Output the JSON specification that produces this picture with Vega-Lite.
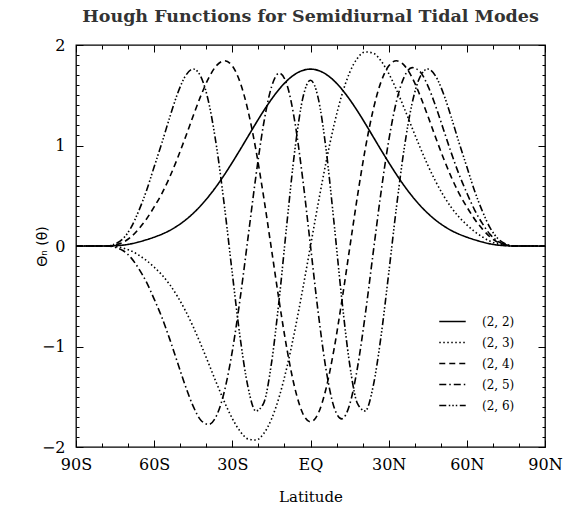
{
  "$schema": "https://vega.github.io/schema/vega-lite/v6.json",
  "width": 469,
  "height": 402,
  "autosize": {"type": "none"},
  "padding": {"left": 76, "top": 45, "right": 21, "bottom": 61},
  "background": "white",
  "config": {
    "view": {"stroke": "black", "strokeWidth": 1.3},
    "axis": {
      "grid": false,
      "domain": false,
      "tickColor": "black",
      "tickWidth": 1,
      "labelColor": "black",
      "titleColor": "black",
      "labelFont": "DejaVu Serif",
      "titleFont": "DejaVu Serif",
      "labelFontSize": 16,
      "titleFontSize": 15,
      "titleFontWeight": "normal",
      "labelFlush": false,
      "labelOverlap": false
    }
  },
  "title": {
    "text": "Hough Functions for Semidiurnal Tidal Modes",
    "font": "DejaVu Serif",
    "fontSize": 17.5,
    "fontWeight": 600,
    "color": "#333333",
    "anchor": "middle",
    "offset": 12
  },
  "data": {
    "values": [
      {"lat": -90, "m22": 0, "m23": 0, "m24": 0, "m25": 0, "m26": 0},
      {"lat": -87, "m22": 0, "m23": 0, "m24": 0, "m25": 0, "m26": 0},
      {"lat": -84, "m22": 0, "m23": 0, "m24": 0, "m25": 0, "m26": 0},
      {"lat": -81, "m22": 0, "m23": 0, "m24": 0, "m25": 0, "m26": 0},
      {"lat": -78, "m22": 0, "m23": 0, "m24": 0, "m25": 0, "m26": 0},
      {"lat": -75, "m22": 0.003, "m23": -0.005, "m24": 0.011, "m25": -0.013, "m26": 0.020},
      {"lat": -72, "m22": 0.009, "m23": -0.020, "m24": 0.036, "m25": -0.045, "m26": 0.071},
      {"lat": -69, "m22": 0.021, "m23": -0.047, "m24": 0.088, "m25": -0.113, "m26": 0.178},
      {"lat": -66, "m22": 0.040, "m23": -0.090, "m24": 0.168, "m25": -0.222, "m26": 0.344},
      {"lat": -63, "m22": 0.062, "m23": -0.143, "m24": 0.267, "m25": -0.358, "m26": 0.547},
      {"lat": -60, "m22": 0.088, "m23": -0.211, "m24": 0.389, "m25": -0.528, "m26": 0.788},
      {"lat": -57, "m22": 0.118, "m23": -0.288, "m24": 0.524, "m25": -0.713, "m26": 1.029},
      {"lat": -54, "m22": 0.155, "m23": -0.385, "m24": 0.688, "m25": -0.929, "m26": 1.283},
      {"lat": -51, "m22": 0.202, "m23": -0.504, "m24": 0.876, "m25": -1.162, "m26": 1.518},
      {"lat": -48, "m22": 0.258, "m23": -0.644, "m24": 1.082, "m25": -1.394, "m26": 1.692},
      {"lat": -45, "m22": 0.326, "m23": -0.805, "m24": 1.296, "m25": -1.596, "m26": 1.761},
      {"lat": -42, "m22": 0.405, "m23": -0.985, "m24": 1.500, "m25": -1.736, "m26": 1.680},
      {"lat": -39, "m22": 0.496, "m23": -1.175, "m24": 1.676, "m25": -1.775, "m26": 1.420},
      {"lat": -36, "m22": 0.598, "m23": -1.369, "m24": 1.797, "m25": -1.684, "m26": 0.978},
      {"lat": -33, "m22": 0.711, "m23": -1.554, "m24": 1.843, "m25": -1.440, "m26": 0.389},
      {"lat": -30, "m22": 0.832, "m23": -1.717, "m24": 1.791, "m25": -1.045, "m26": -0.276},
      {"lat": -27, "m22": 0.959, "m23": -1.844, "m24": 1.628, "m25": -0.522, "m26": -0.912},
      {"lat": -24, "m22": 1.089, "m23": -1.920, "m24": 1.349, "m25": 0.079, "m26": -1.402},
      {"lat": -21, "m22": 1.219, "m23": -1.931, "m24": 0.963, "m25": 0.686, "m26": -1.641},
      {"lat": -18, "m22": 1.344, "m23": -1.868, "m24": 0.492, "m25": 1.214, "m26": -1.565},
      {"lat": -15, "m22": 1.459, "m23": -1.724, "m24": -0.028, "m25": 1.580, "m26": -1.170},
      {"lat": -12, "m22": 1.561, "m23": -1.500, "m24": -0.552, "m25": 1.720, "m26": -0.525},
      {"lat": -9, "m22": 1.645, "m23": -1.200, "m24": -1.031, "m25": 1.601, "m26": 0.239},
      {"lat": -6, "m22": 1.708, "m23": -0.838, "m24": -1.415, "m25": 1.234, "m26": 0.956},
      {"lat": -3, "m22": 1.747, "m23": -0.431, "m24": -1.664, "m25": 0.671, "m26": 1.466},
      {"lat": 0, "m22": 1.760, "m23": 0, "m24": -1.750, "m25": 0, "m26": 1.650},
      {"lat": 3, "m22": 1.747, "m23": 0.431, "m24": -1.664, "m25": -0.671, "m26": 1.466},
      {"lat": 6, "m22": 1.708, "m23": 0.838, "m24": -1.415, "m25": -1.234, "m26": 0.956},
      {"lat": 9, "m22": 1.645, "m23": 1.200, "m24": -1.031, "m25": -1.601, "m26": 0.239},
      {"lat": 12, "m22": 1.561, "m23": 1.500, "m24": -0.552, "m25": -1.720, "m26": -0.525},
      {"lat": 15, "m22": 1.459, "m23": 1.724, "m24": -0.028, "m25": -1.580, "m26": -1.170},
      {"lat": 18, "m22": 1.344, "m23": 1.868, "m24": 0.492, "m25": -1.214, "m26": -1.565},
      {"lat": 21, "m22": 1.219, "m23": 1.931, "m24": 0.963, "m25": -0.686, "m26": -1.641},
      {"lat": 24, "m22": 1.089, "m23": 1.920, "m24": 1.349, "m25": -0.079, "m26": -1.402},
      {"lat": 27, "m22": 0.959, "m23": 1.844, "m24": 1.628, "m25": 0.522, "m26": -0.912},
      {"lat": 30, "m22": 0.832, "m23": 1.717, "m24": 1.791, "m25": 1.045, "m26": -0.276},
      {"lat": 33, "m22": 0.711, "m23": 1.554, "m24": 1.843, "m25": 1.440, "m26": 0.389},
      {"lat": 36, "m22": 0.598, "m23": 1.369, "m24": 1.797, "m25": 1.684, "m26": 0.978},
      {"lat": 39, "m22": 0.496, "m23": 1.175, "m24": 1.676, "m25": 1.775, "m26": 1.420},
      {"lat": 42, "m22": 0.405, "m23": 0.985, "m24": 1.500, "m25": 1.736, "m26": 1.680},
      {"lat": 45, "m22": 0.326, "m23": 0.805, "m24": 1.296, "m25": 1.596, "m26": 1.761},
      {"lat": 48, "m22": 0.258, "m23": 0.644, "m24": 1.082, "m25": 1.394, "m26": 1.692},
      {"lat": 51, "m22": 0.202, "m23": 0.504, "m24": 0.876, "m25": 1.162, "m26": 1.518},
      {"lat": 54, "m22": 0.155, "m23": 0.385, "m24": 0.688, "m25": 0.929, "m26": 1.283},
      {"lat": 57, "m22": 0.118, "m23": 0.288, "m24": 0.524, "m25": 0.713, "m26": 1.029},
      {"lat": 60, "m22": 0.088, "m23": 0.211, "m24": 0.389, "m25": 0.528, "m26": 0.788},
      {"lat": 63, "m22": 0.062, "m23": 0.143, "m24": 0.267, "m25": 0.358, "m26": 0.547},
      {"lat": 66, "m22": 0.040, "m23": 0.090, "m24": 0.168, "m25": 0.222, "m26": 0.344},
      {"lat": 69, "m22": 0.021, "m23": 0.047, "m24": 0.088, "m25": 0.113, "m26": 0.178},
      {"lat": 72, "m22": 0.009, "m23": 0.020, "m24": 0.036, "m25": 0.045, "m26": 0.071},
      {"lat": 75, "m22": 0.003, "m23": 0.005, "m24": 0.011, "m25": 0.013, "m26": 0.020},
      {"lat": 78, "m22": 0, "m23": 0, "m24": 0, "m25": 0, "m26": 0},
      {"lat": 81, "m22": 0, "m23": 0, "m24": 0, "m25": 0, "m26": 0},
      {"lat": 84, "m22": 0, "m23": 0, "m24": 0, "m25": 0, "m26": 0},
      {"lat": 87, "m22": 0, "m23": 0, "m24": 0, "m25": 0, "m26": 0},
      {"lat": 90, "m22": 0, "m23": 0, "m24": 0, "m25": 0, "m26": 0}
    ]
  },
  "transform": [{"fold": ["m22", "m23", "m24", "m25", "m26"], "as": ["mode", "v"]}],
  "layer": [
    {
      "mark": {"type": "line", "color": "black", "strokeWidth": 1.6, "interpolate": "monotone"},
      "encoding": {
        "x": {
          "field": "lat", "type": "quantitative",
          "scale": {"domain": [-90, 90], "nice": false, "zero": false},
          "axis": {
            "orient": "bottom",
            "title": "Latitude",
            "titlePadding": 14,
            "values": [-90, -80, -70, -60, -50, -40, -30, -20, -10, 0, 10, 20, 30, 40, 50, 60, 70, 80, 90],
            "labelExpr": "datum.value % 30 != 0 ? '' : (datum.value < 0 ? (-datum.value) + 'S' : (datum.value > 0 ? datum.value + 'N' : 'EQ'))",
            "tickSize": {"condition": {"test": "datum.value % 30 == 0", "value": -7}, "value": -4},
            "labelPadding": 16
          }
        },
        "y": {
          "field": "v", "type": "quantitative",
          "scale": {"domain": [-2, 2], "nice": false, "zero": false},
          "axis": {
            "orient": "left",
            "title": "Θₙ (θ)",
            "titleFont": "DejaVu Sans",
            "titleFontSize": 14,
            "titlePadding": -8,
            "values": [-2, -1.9, -1.8, -1.7, -1.6, -1.5, -1.4, -1.3, -1.2, -1.1, -1, -0.9, -0.8, -0.7, -0.6, -0.5, -0.4, -0.3, -0.2, -0.1, 0, 0.1, 0.2, 0.3, 0.4, 0.5, 0.6, 0.7, 0.8, 0.9, 1, 1.1, 1.2, 1.3, 1.4, 1.5, 1.6, 1.7, 1.8, 1.9, 2],
            "labelExpr": "datum.value % 1 == 0 ? format(datum.value, 'd') : ''",
            "tickSize": {"condition": {"test": "datum.value % 1 == 0", "value": -7}, "value": -3},
            "labelPadding": 18
          }
        },
        "strokeDash": {
          "field": "mode", "type": "nominal",
          "scale": {
            "domain": ["m22", "m23", "m24", "m25", "m26"],
            "range": [[1, 0], [1.5, 2.5], [6, 4], [7, 3, 1.5, 3], [7, 2.5, 1.5, 2, 1.5, 2, 1.5, 2.5]]
          },
          "legend": {
            "orient": "none",
            "legendX": 362,
            "legendY": 262,
            "title": null,
            "symbolType": "stroke",
            "symbolStrokeColor": "black",
            "symbolStrokeWidth": 1.6,
            "symbolSize": 700,
            "rowPadding": -8.5,
            "labelFont": "DejaVu Serif",
            "labelFontSize": 12,
            "labelColor": "black",
            "labelOffset": 15,
            "labelExpr": "'(2, ' + slice(datum.label, 2) + ')'"
          }
        }
      }
    },
    {
      "mark": {"type": "point", "opacity": 0},
      "encoding": {
        "x": {
          "field": "lat", "type": "quantitative",
          "axis": {
            "orient": "top", "title": null, "labels": false,
            "values": [-90, -80, -70, -60, -50, -40, -30, -20, -10, 0, 10, 20, 30, 40, 50, 60, 70, 80, 90],
            "tickSize": {"condition": {"test": "datum.value % 30 == 0", "value": -7}, "value": -4}
          }
        },
        "y": {
          "field": "v", "type": "quantitative",
          "axis": {
            "orient": "right", "title": null, "labels": false,
            "values": [-2, -1.9, -1.8, -1.7, -1.6, -1.5, -1.4, -1.3, -1.2, -1.1, -1, -0.9, -0.8, -0.7, -0.6, -0.5, -0.4, -0.3, -0.2, -0.1, 0, 0.1, 0.2, 0.3, 0.4, 0.5, 0.6, 0.7, 0.8, 0.9, 1, 1.1, 1.2, 1.3, 1.4, 1.5, 1.6, 1.7, 1.8, 1.9, 2],
            "tickSize": {"condition": {"test": "datum.value % 1 == 0", "value": -7}, "value": -3}
          }
        }
      }
    }
  ],
  "resolve": {"axis": {"x": "independent", "y": "independent"}}
}
